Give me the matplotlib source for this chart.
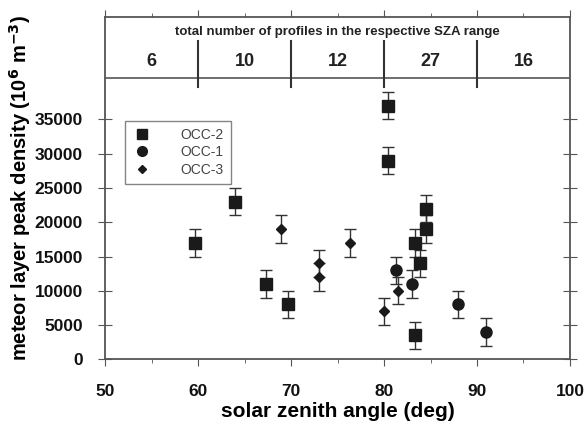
import matplotlib.pyplot as plt
from matplotlib.ticker import MultipleLocator

plt.rcParams['font.family'] = ['Liberation Sans', 'DejaVu Sans']

# OCC-2 (squares)
occ2_sza = [59.7, 64.0, 67.3, 69.7, 80.4, 80.4, 83.3, 83.3, 83.9, 84.5, 84.5]
occ2_dens = [17000, 23000, 11000, 8000, 37000, 29000, 17000, 3500, 14000, 22000, 19000]
# OCC-1 (circles)
occ1_sza = [81.3, 83.0, 88.0, 91.0]
occ1_dens = [13000, 11000, 8000, 4000]
# OCC-3 (diamonds)
occ3_sza = [68.9, 73.0, 73.0, 76.3, 80.0, 81.5]
occ3_dens = [19000, 14000, 12000, 17000, 7000, 10000]
err = 2000

# counts per SZA range
range_centres = [55, 65, 75, 85, 95]
range_counts = ['6', '10', '12', '27', '16']
range_edges = [60, 70, 80, 90]

ink = '#1a1a1a'
spine = '#555555'

fig = plt.figure(figsize=(5.87, 4.28), dpi=100)
ax = fig.add_axes([0.179, 0.1605, 0.792, 0.8005])

ebkw = dict(ls='none', color=ink, ecolor='#333333', elinewidth=1.0, capsize=4, capthick=1.0)
ax.errorbar(occ2_sza, occ2_dens, yerr=err, marker='s', ms=8, label='OCC-2', **ebkw)
ax.errorbar(occ1_sza, occ1_dens, yerr=err, marker='o', ms=8, label='OCC-1', **ebkw)
ax.errorbar(occ3_sza, occ3_dens, yerr=err, marker='D', ms=5, label='OCC-3', **ebkw)

ax.set_xlim(50, 100)
ax.set_ylim(0, 50000)
ax.set_yticks(range(0, 35001, 5000))
ax.xaxis.set_major_locator(MultipleLocator(10))
ax.xaxis.set_minor_locator(MultipleLocator(5))

# top panel with profile counts
ax.axhline(41000, color=spine, lw=1.2)
for e in range_edges:
    ax.plot([e, e], [39800, 46500], color='#333333', lw=1.5)
for c, n in zip(range_centres, range_counts):
    ax.text(c, 43500, n, ha='center', va='center', fontsize=13, fontweight='bold', color='#222222')
ax.text(75, 47700, 'total number of profiles in the respective SZA range',
        ha='center', va='center', fontsize=9.5, fontweight='bold', color='#222222')

for s in ax.spines.values():
    s.set_color(spine)
    s.set_linewidth(1.3)
ax.tick_params(axis='both', which='both', colors=spine, labelcolor='#111111')
ax.tick_params(axis='x', which='major', direction='out', length=5, labelsize=12.5, pad=13, top=True)
ax.tick_params(axis='x', which='minor', direction='out', length=3, top=True)
ax.tick_params(axis='y', direction='inout', length=10, labelsize=12.5, pad=11, right=True)
for lab in ax.get_xticklabels() + ax.get_yticklabels():
    lab.set_fontweight('bold')

ax.set_xlabel('solar zenith angle (deg)', fontsize=15, fontweight='bold', labelpad=2)
ax.set_ylabel('meteor layer peak density (10$^{\\mathbf{6}}$ m$^{\\mathbf{-3}}$)',
              fontsize=14.5, fontweight='bold', labelpad=1)

handles = [plt.Line2D([], [], ls='none', marker=m, ms=s, color=ink) for m, s in
           [('s', 7), ('o', 7), ('D', 4.5)]]
leg = ax.legend(handles, ['OCC-2', 'OCC-1', 'OCC-3'], loc='upper left',
                bbox_to_anchor=(0.043, 0.696), fontsize=10, frameon=True, fancybox=False,
                handletextpad=2.0, borderpad=0.5, labelspacing=0.25, handlelength=1.5,
                borderaxespad=0)
leg.get_frame().set_edgecolor('#666666')
leg.get_frame().set_linewidth(1.0)
for t in leg.get_texts():
    t.set_color('#444444')

fig.savefig('out.png', dpi=100)
